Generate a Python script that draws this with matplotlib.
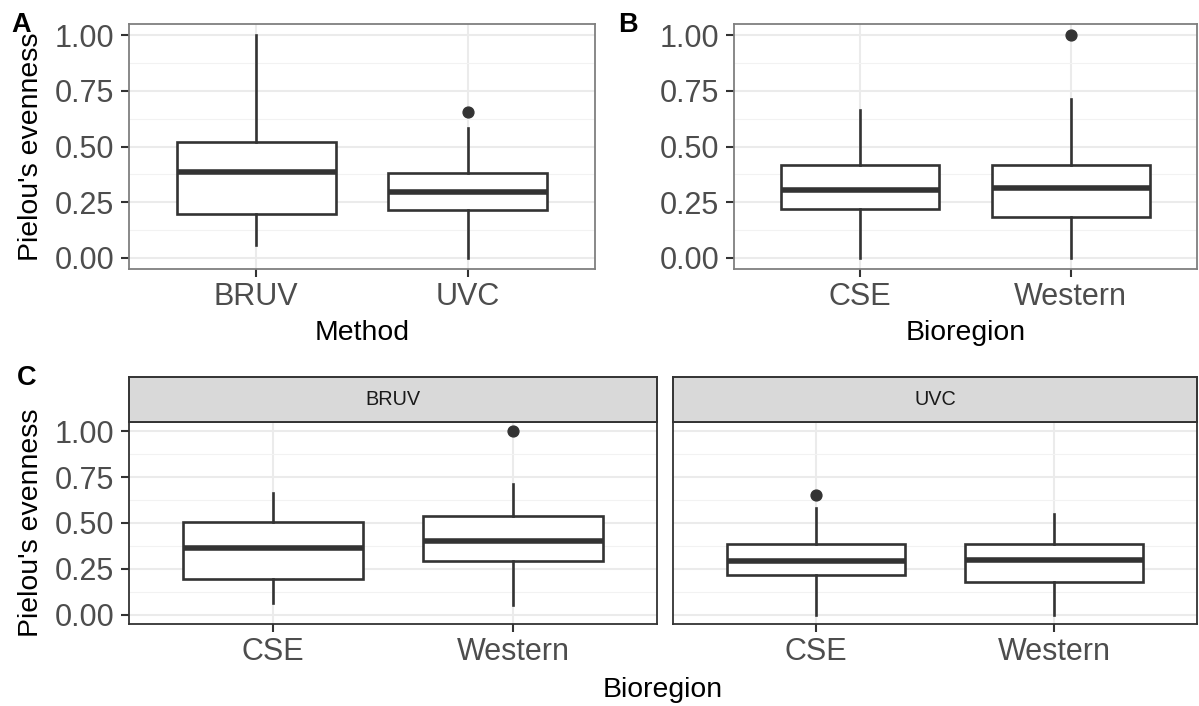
import matplotlib
matplotlib.use("Agg")
import matplotlib.pyplot as plt
from matplotlib.ticker import MultipleLocator, FixedLocator

plt.rcParams['font.family'] = ['Liberation Sans', 'DejaVu Sans']

# ---------------- data ----------------
methods = ['BRUV', 'UVC']
bioregions = ['CSE', 'Western']
facets = ['BRUV', 'UVC']
yticks = [0.00, 0.25, 0.50, 0.75, 1.00]
ytick_labels = ['0.00', '0.25', '0.50', '0.75', '1.00']

# Panel A: by method
a_lo = [0.057, 0.0]
a_q1 = [0.197, 0.217]
a_med = [0.385, 0.296]
a_q3 = [0.519, 0.383]
a_hi = [1.0, 0.581]
a_out = [[], [0.653]]

# Panel B: by bioregion
b_lo = [0.0, 0.0]
b_q1 = [0.220, 0.184]
b_med = [0.304, 0.312]
b_q3 = [0.419, 0.419]
b_hi = [0.663, 0.712]
b_out = [[], [1.0]]

# Panel C, facet BRUV: by bioregion
cb_lo = [0.064, 0.055]
cb_q1 = [0.197, 0.291]
cb_med = [0.362, 0.404]
cb_q3 = [0.503, 0.537]
cb_hi = [0.661, 0.710]
cb_out = [[], [1.0]]

# Panel C, facet UVC: by bioregion
cu_lo = [0.0, 0.0]
cu_q1 = [0.219, 0.177]
cu_med = [0.293, 0.299]
cu_q3 = [0.386, 0.386]
cu_hi = [0.583, 0.550]
cu_out = [[0.652], []]

# ---------------- layout ----------------
W, H = 1199, 706
DPI = 100
fig = plt.figure(figsize=(W / DPI, H / DPI), dpi=DPI)
fig.patch.set_facecolor('white')


def rect(l, t, r, b):
    return [l / W, 1 - b / H, (r - l) / W, (b - t) / H]


DARK = '#333333'
TICKC = '#4D4D4D'


def make_stats(lo, q1, med, q3, hi, out):
    return [dict(whislo=lo[i], q1=q1[i], med=med[i], q3=q3[i], whishi=hi[i],
                 fliers=out[i]) for i in range(len(med))]


def style_axes(ax, cats, spine_color, show_ylabels=True):
    ax.set_xlim(0.4, 2.6)
    ax.set_ylim(-0.05, 1.05)
    ax.yaxis.set_major_locator(FixedLocator(yticks))
    ax.yaxis.set_minor_locator(MultipleLocator(0.125))
    ax.set_xticks([1, 2])
    ax.set_xticklabels(cats)
    if show_ylabels:
        ax.set_yticklabels(ytick_labels)
    else:
        ax.tick_params(axis='y', which='major', labelleft=False)
    ax.grid(True, which='major', color='#EBEBEB', linewidth=1.5, zorder=0)
    ax.grid(True, which='minor', axis='y', color='#F2F2F2', linewidth=0.8, zorder=0)
    ax.set_axisbelow(True)
    ax.tick_params(axis='both', which='major', length=5.5, width=1.5, color=DARK,
                   labelsize=22, labelcolor=TICKC, pad=4)
    ax.tick_params(axis='y', which='minor', length=0)
    ax.tick_params(axis='y', which='major', pad=5)
    for s in ax.spines.values():
        s.set_color(spine_color)
        s.set_linewidth(1.3)


def draw_box(ax, stats):
    ax.bxp(stats, positions=[1, 2], widths=0.75, patch_artist=True, showfliers=True,
           boxprops=dict(facecolor='white', edgecolor=DARK, linewidth=1.9),
           medianprops=dict(color=DARK, linewidth=4.0, solid_capstyle='butt'),
           whiskerprops=dict(color=DARK, linewidth=1.9),
           capprops=dict(linewidth=0),
           flierprops=dict(marker='o', markerfacecolor=DARK, markeredgecolor=DARK,
                           markersize=7.8),
           zorder=3)


# Panel A
axA = fig.add_axes(rect(129, 24, 595, 269))
draw_box(axA, make_stats(a_lo, a_q1, a_med, a_q3, a_hi, a_out))
style_axes(axA, methods, '#7F7F7F')
axA.set_ylabel("Pielou's evenness", fontsize=20.4, color='black')
axA.yaxis.label.set_va('center')
axA.yaxis.set_label_coords((31 - 129) / (595 - 129), 0.5)
fig.text(362 / W, 1 - 340.5 / H, 'Method', ha='center', va='baseline',
         fontsize=20.4, color='black')

# Panel B
axB = fig.add_axes(rect(734, 24, 1197, 269))
draw_box(axB, make_stats(b_lo, b_q1, b_med, b_q3, b_hi, b_out))
style_axes(axB, bioregions, '#7F7F7F')
fig.text(965.5 / W, 1 - 340.5 / H, 'Bioregion', ha='center', va='baseline',
         fontsize=20.4, color='black')

# Panel C facets
facet_stats = [make_stats(cb_lo, cb_q1, cb_med, cb_q3, cb_hi, cb_out),
               make_stats(cu_lo, cu_q1, cu_med, cu_q3, cu_hi, cu_out)]
facet_x = [(129, 657), (673, 1197)]
for k, (name, (l, r)) in enumerate(zip(facets, facet_x)):
    ax = fig.add_axes(rect(l, 422, r, 624))
    draw_box(ax, facet_stats[k])
    style_axes(ax, bioregions, DARK, show_ylabels=(k == 0))
    if k == 1:
        ax.tick_params(axis='y', which='major', length=0)
    if k == 0:
        ax.set_ylabel("Pielou's evenness", fontsize=20.4, color='black')
        ax.yaxis.label.set_va('center')
        ax.yaxis.set_label_coords((31 - l) / (r - l), 0.5)
    sax = fig.add_axes(rect(l, 377, r, 422))
    sax.set_facecolor('#D9D9D9')
    sax.set_xticks([])
    sax.set_yticks([])
    for s in sax.spines.values():
        s.set_color(DARK)
        s.set_linewidth(1.4)
    sax.text(0.5, 0.5, name, ha='center', va='center', fontsize=14.3,
             color='#1A1A1A', transform=sax.transAxes)

fig.text(663 / W, 1 - 697 / H, 'Bioregion', ha='center', va='baseline',
         fontsize=20.4, color='black')

# Panel letters
fig.text(11 / W, 1 - 32 / H, 'A', ha='left', va='baseline', fontsize=19.5,
         fontweight='bold', color='black')
fig.text(618 / W, 1 - 32 / H, 'B', ha='left', va='baseline', fontsize=19.5,
         fontweight='bold', color='black')
fig.text(17 / W, 1 - 385 / H, 'C', ha='left', va='baseline', fontsize=19.5,
         fontweight='bold', color='black')

fig.savefig('out.png', dpi=DPI, facecolor='white')
